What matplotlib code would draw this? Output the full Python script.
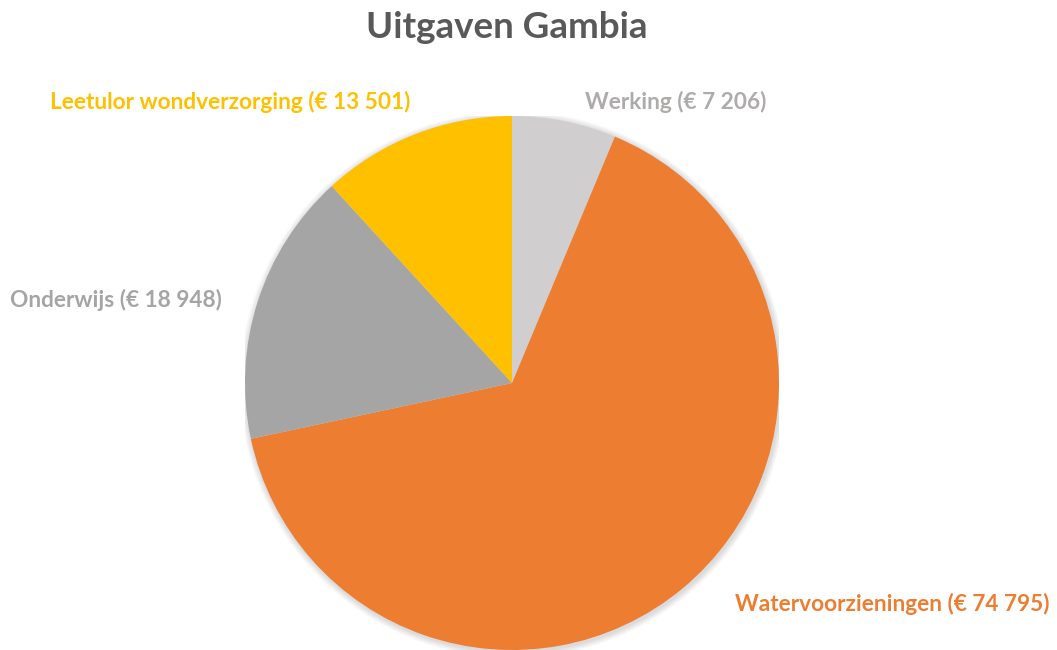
import matplotlib.pyplot as plt
from matplotlib.patches import Circle

# data
categories = ['Werking', 'Watervoorzieningen', 'Onderwijs', 'Leetulor wondverzorging']
values = [7206, 74795, 18948, 13501]
colors = ['#D0CECE', '#ED7D31', '#A5A5A5', '#FFC000']
label_colors = ['#AEABAB', '#ED7D31', '#A5A5A5', '#FFC000']
# label anchor (left x, center y) in pixels
label_pos = [(585, 102), (735, 604), (10, 300), (50, 102)]

W, H = 1057, 650
plt.rcParams['font.family'] = ['Lato', 'DejaVu Sans']

fig = plt.figure(figsize=(W / 100, H / 100), dpi=100)
fig.patch.set_facecolor('white')

cx, cy, r = 512, 383, 267
ax = fig.add_axes([(cx - r) / W, (H - cy - r) / H, 2 * r / W, 2 * r / H])
# soft shadow around the pie
for k in range(6):
    ax.add_patch(Circle((0.004, -0.006), 1 + 0.004 * (k + 1), color='black',
                        alpha=0.025, lw=0, zorder=0))
ax.pie(values, colors=colors, startangle=90, counterclock=False,
       wedgeprops=dict(linewidth=0, zorder=1))
ax.set_xlim(-1, 1)
ax.set_ylim(-1, 1)
ax.set_aspect('equal')
ax.axis('off')


def fmt(v):
    return '€ ' + f'{v:,}'.replace(',', ' ')


for cat, v, col, (x, y) in zip(categories, values, label_colors, label_pos):
    fig.text(x / W, 1 - y / H, f'{cat} ({fmt(v)})', color=col,
             fontsize=16.3, fontweight='bold', ha='left', va='center')

fig.text(507 / W, 1 - 28 / H, 'Uitgaven Gambia', color='#595959',
         fontsize=26.5, fontweight='bold', ha='center', va='center')

fig.savefig('out.png', dpi=100)
